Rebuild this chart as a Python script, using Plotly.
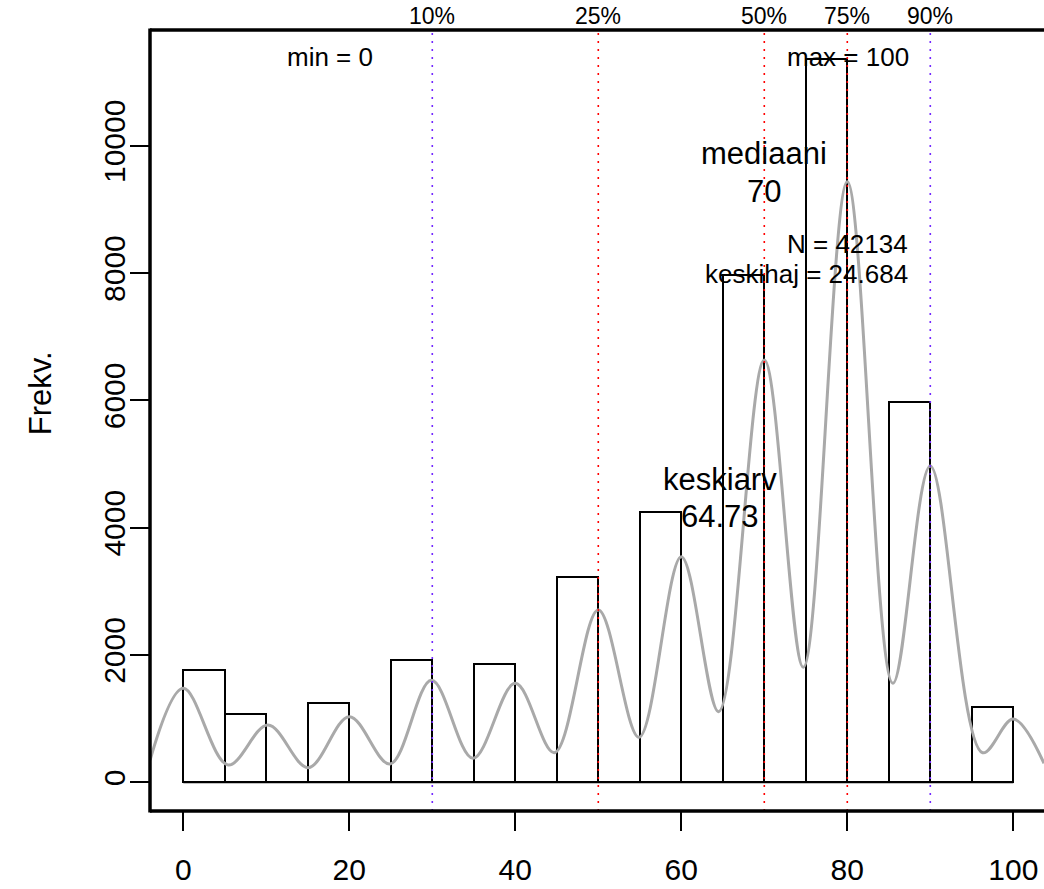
import plotly.graph_objects as go

# ---- data ----
bin_starts = [0, 5, 10, 15, 20, 25, 30, 35, 40, 45, 50, 55, 60, 65, 70, 75, 80, 85, 90, 95]
bin_width = 5
counts = [1769, 1078, 0, 1246, 0, 1917, 0, 1864, 0, 3230,
          0, 4252, 0, 7970, 0, 11359, 0, 5980, 0, 1188]

# smoothed frequency curve (peaks and troughs)
curve_x = [-4.0, 0, 5.4, 10.2, 15.06, 20, 24.9, 29.9, 34.9, 40, 44.7, 50, 54.9,
           60, 64.5, 70, 74.7, 80, 85.5, 90, 96.3, 100, 103.7]
curve_y = [350, 1477, 272, 900, 230, 1031, 288, 1602, 377, 1555, 465, 2707, 707,
           3545, 1109, 6635, 1807, 9436, 1555, 4970, 465, 994, 298]

quant_labels = ["10%", "25%", "50%", "75%", "90%"]
quant_values = [30, 50, 70, 80, 90]
quant_colors = ["#7328FF", "#FF0000", "#FF0000", "#FF0000", "#7328FF"]

x_ticks = [0, 20, 40, 60, 80, 100]
y_ticks = [0, 2000, 4000, 6000, 8000, 10000]

n_obs = 42134
mean_val = 64.73
median_val = 70
sd_val = 24.684
min_val = 0
max_val = 100

FONT = "Liberation Sans, Arial, Helvetica, sans-serif"

fig = go.Figure()

# histogram bars
centers = [s + bin_width / 2 for s in bin_starts]
fig.add_trace(go.Bar(
    x=centers, y=counts, width=[bin_width] * len(counts),
    marker=dict(color="rgba(255,255,255,0)", line=dict(color="black", width=2)),
    showlegend=False, hoverinfo="skip"))

# baseline of empty bins
fig.add_trace(go.Scatter(
    x=[bin_starts[0], bin_starts[-1] + bin_width], y=[0, 0], mode="lines",
    line=dict(color="black", width=2), showlegend=False, hoverinfo="skip"))

# smoothed curve
fig.add_trace(go.Scatter(
    x=curve_x, y=curve_y, mode="lines",
    line=dict(color="#A9A9A9", width=3, shape="spline", smoothing=1.0),
    showlegend=False, hoverinfo="skip"))

shapes = []
annotations = []
for lab, v, c in zip(quant_labels, quant_values, quant_colors):
    shapes.append(dict(type="line", xref="x", yref="paper", x0=v, x1=v, y0=0, y1=1,
                       line=dict(color=c, width=1.6, dash="2px,6px"), layer="above"))
    annotations.append(dict(x=v, y=1.018, xref="x", yref="paper", text=lab,
                            showarrow=False, font=dict(size=23, color="black", family=FONT),
                            xanchor="center", yanchor="middle"))

# box (left, top, bottom)
box = dict(color="black", width=3.5)
shapes.append(dict(type="line", xref="paper", yref="paper", x0=0, x1=0, y0=-0.002, y1=1.002, line=box))
shapes.append(dict(type="line", xref="paper", yref="paper", x0=0, x1=1.01, y0=1, y1=1, line=box))
shapes.append(dict(type="line", xref="paper", yref="paper", x0=0, x1=1.01, y0=0, y1=0, line=box))

def txt(x, y, s, size, xanchor="center"):
    annotations.append(dict(x=x, y=y, xref="x", yref="y", text=s, showarrow=False,
                            font=dict(size=size, color="black", family=FONT),
                            xanchor=xanchor, yanchor="middle"))

txt(17.7, 11390, f"min = {min_val}", 26)
txt(80.1, 11390, f"max = {max_val}", 26)
txt(70, 9880, "mediaani", 31)
txt(70, 9279, f"{median_val}", 31)
txt(87.5, 8457, f"N = {n_obs}", 26, "right")
txt(87.5, 7980, f"keskihaj = {sd_val}", 26, "right")
txt(64.7, 4760, "keskiarv", 31)
txt(64.7, 4183, f"{mean_val}", 31)

# y-axis title
annotations.append(dict(x=-0.123, y=0.535, xref="paper", yref="paper", text="Frekv.",
                        showarrow=False, textangle=-90,
                        font=dict(size=31, color="black", family=FONT),
                        xanchor="center", yanchor="middle"))

fig.update_layout(
    width=1044, height=889,
    margin=dict(l=150, r=0, t=30, b=78, autoexpand=False),
    plot_bgcolor="white", paper_bgcolor="white",
    font=dict(family=FONT, color="black"),
    shapes=shapes, annotations=annotations,
    bargap=0,
    xaxis=dict(range=[-4.01, 103.70], tickvals=x_ticks, ticktext=[str(v) for v in x_ticks],
               ticks="outside", ticklen=19,
               tickwidth=1.5, tickcolor="black", showline=False, showgrid=False,
               zeroline=False, tickfont=dict(size=30, family=FONT), ticklabelstandoff=13),
    yaxis=dict(range=[-451, 11819], tickvals=y_ticks, ticktext=[str(v) for v in y_ticks],
               ticks="outside", ticklen=19,
               tickwidth=1.5, tickcolor="black", showline=False, showgrid=False,
               zeroline=False, tickangle=-90, tickfont=dict(size=30, family=FONT),
               ticklabelstandoff=-7),
)

fig.write_html("out.html", config={"displayModeBar": False},
               post_script="document.body.style.margin='0';document.body.style.overflow='hidden';")
